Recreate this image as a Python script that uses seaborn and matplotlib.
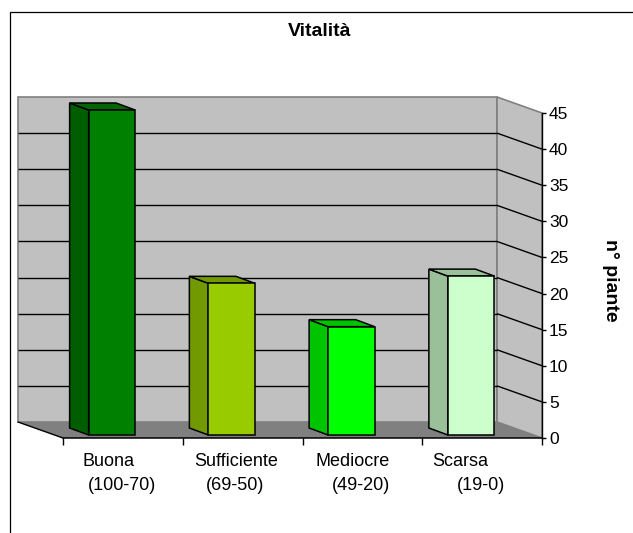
import matplotlib
matplotlib.use("Agg")
import matplotlib.pyplot as plt
import seaborn as sns
import pandas as pd
from matplotlib.patches import Polygon, Rectangle

# ---------------- data ----------------
categories = ["Buona", "Sufficiente", "Mediocre", "Scarsa"]
ranges = ["(100-70)", "(69-50)", "(49-20)", "(19-0)"]
values = [45, 21, 15, 22]
yticks = [0, 5, 10, 15, 20, 25, 30, 35, 40, 45]
title = "Vitalità"
ylabel = "n° piante"

# ---------------- styles ----------------
front_colors = ["#008000", "#99CC00", "#00FF00", "#CCFFCC"]
side_colors = ["#005E00", "#739900", "#00C400", "#99C099"]
top_colors = ["#006600", "#739900", "#00C400", "#99C099"]

W, H, DPI = 633, 533, 100
sns.set_theme(style="white")
plt.rcParams["font.family"] = ["Liberation Sans", "DejaVu Sans"]
plt.rcParams["text.color"] = "black"
plt.rcParams["axes.labelcolor"] = "black"
plt.rcParams["xtick.color"] = "black"
plt.rcParams["ytick.color"] = "black"

fig = plt.figure(figsize=(W / DPI, H / DPI), dpi=DPI)
fig.patch.set_facecolor("white")

# axes geometry in pixels (back-left of wall to front-right corner)
px_left, px_right, px_top, px_bottom = 18, 542, 97, 438
ax = fig.add_axes([px_left / W, 1 - px_bottom / H,
                   (px_right - px_left) / W, (px_bottom - px_top) / H])
ax.patch.set_visible(False)

xunit = (px_right - 63) / len(categories)   # px per category (front plane)
yunit = (438 - 113) / 45.0                  # px per value unit
DX, DY = -45 / xunit, 16 / yunit            # full depth offset
BX, BY = -11 / xunit, 3 / yunit             # bar front offset
DDX, DDY = -19 / xunit, 7 / yunit           # bar depth
bar_w = 46.5 / xunit
ymax = max(yticks)
x_l, x_r = -0.5, len(categories) - 0.5

df = pd.DataFrame({"cat": categories, "val": values})
sns.barplot(data=df, x="cat", y="val", hue="cat", palette=front_colors,
            width=bar_w, edgecolor="black", linewidth=1.1, legend=False,
            ax=ax, zorder=5, saturation=1)

# walls and floor
ax.add_patch(Rectangle((x_l + DX, DY), x_r - x_l, ymax, fc="#C0C0C0",
                       ec="#808080", lw=1.2, zorder=0, clip_on=False))
ax.add_patch(Polygon([(x_r + DX, DY), (x_r + DX, ymax + DY), (x_r, ymax), (x_r, 0)],
                     closed=True, fc="#C0C0C0", ec="#808080", lw=1.2, zorder=0.5,
                     clip_on=False))
ax.add_patch(Polygon([(x_l, 0), (x_r, 0), (x_r + DX, DY), (x_l + DX, DY)],
                     closed=True, fc="#808080", ec="none", zorder=1, clip_on=False))
for v in yticks[1:-1]:
    ax.plot([x_l + DX, x_r + DX], [v + DY, v + DY], color="black", lw=1.0,
            zorder=1.5, clip_on=False, solid_capstyle="butt")
    ax.plot([x_r + DX, x_r], [v + DY, v], color="black", lw=1.0,
            zorder=1.5, clip_on=False, solid_capstyle="butt")
ax.plot([x_l, x_r], [0, 0], color="black", lw=1.1, zorder=2, clip_on=False)
ax.plot([x_l + DX, x_l], [DY, 0], color="black", lw=1.0, zorder=2, clip_on=False)

# 3D bars built from seaborn's bar patches
for cont in ax.containers:
    for p in cont.patches:
        idx = int(round(p.get_x() + p.get_width() / 2))
        p.set_x(p.get_x() + BX)
        p.set_y(BY)
        p.set_clip_on(False)
        x0, y0, w, h = p.get_x(), p.get_y(), p.get_width(), p.get_height()
        ax.add_patch(Polygon([(x0, y0), (x0, y0 + h), (x0 + DDX, y0 + h + DDY),
                              (x0 + DDX, y0 + DDY)], closed=True,
                             fc=side_colors[idx], ec="black", lw=1.1, zorder=4,
                             clip_on=False))
        ax.add_patch(Polygon([(x0, y0 + h), (x0 + w, y0 + h),
                              (x0 + w + DDX, y0 + h + DDY), (x0 + DDX, y0 + h + DDY)],
                             closed=True, fc=top_colors[idx], ec="black", lw=1.1,
                             zorder=4, clip_on=False))

ax.set_xlim(x_l + DX, x_r)
ax.set_ylim(0, ymax + DY)

for s in ["left", "top", "bottom"]:
    ax.spines[s].set_visible(False)
ax.spines["right"].set_visible(True)
ax.spines["right"].set_color("black")
ax.spines["right"].set_linewidth(1.0)
ax.spines["right"].set_bounds(0, ymax)

ax.yaxis.tick_right()
ax.set_yticks(yticks)
ax.set_yticklabels([str(t) for t in yticks])
ax.tick_params(axis="y", which="major", direction="out", length=3, width=1,
               color="black", labelcolor="black", labelsize=12.5, pad=2,
               right=True, left=False)

ax.set_xticks([x_l + i for i in range(len(categories) + 1)])
ax.set_xticklabels([])
ax.set_xlabel("")
ax.tick_params(axis="x", which="major", direction="out", length=5, width=1,
               color="black", bottom=True)

off1 = [-14, -6, -10, -22]
off2 = [-1, -8, -1, -1]
for i, (c, r) in enumerate(zip(categories, ranges)):
    ax.annotate(c, xy=(i, 0), xytext=(off1[i], -24), textcoords="offset pixels",
                ha="center", va="center", fontsize=13, color="black",
                annotation_clip=False)
    ax.annotate(r, xy=(i, 0), xytext=(off2[i], -47), textcoords="offset pixels",
                ha="center", va="center", fontsize=13, color="black",
                annotation_clip=False)

ax.yaxis.set_label_position("right")
ax.set_ylabel(ylabel, rotation=270, fontsize=14, fontweight="bold",
              ha="center", va="center", color="black")
ax.yaxis.set_label_coords((610 - px_left) / (px_right - px_left),
                          (px_bottom - 280) / (px_bottom - px_top))

fig.text(320 / W, 1 - 32 / H, title, ha="center", va="center",
         fontsize=14, fontweight="bold", color="black")

fig.add_artist(Rectangle((10 / W, -0.1), 1.2, 1 - 12 / H + 0.1,
                         transform=fig.transFigure, fill=False, ec="black", lw=0.9))

fig.savefig("out.png", dpi=DPI, facecolor="white")
